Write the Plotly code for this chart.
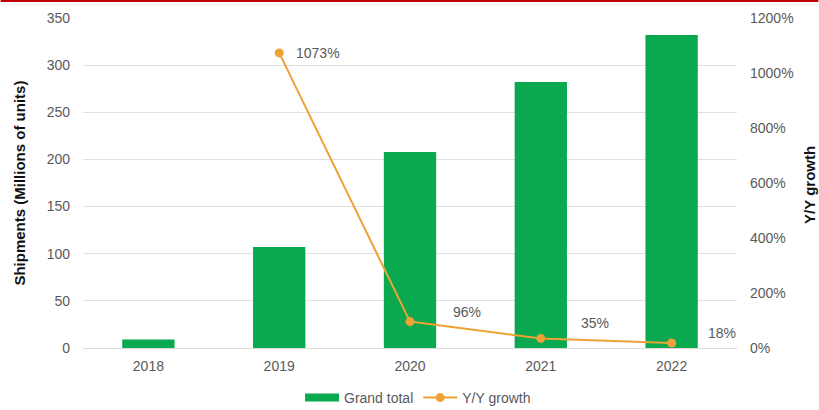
import plotly.graph_objects as go

# Annual shipments and year-over-year growth
years = ["2018", "2019", "2020", "2021", "2022"]
shipments = [9, 107, 208, 282, 332]          # millions of units
growth_years = ["2019", "2020", "2021", "2022"]
growth_pct = [1073, 96, 35, 18]               # Y/Y growth, %

left_ticks = [0, 50, 100, 150, 200, 250, 300, 350]
right_ticks = [0, 200, 400, 600, 800, 1000, 1200]

GREEN = "#0aa84f"
ORANGE = "#eea236"
TICK_GREY = "#595959"
FONT = "Liberation Sans, Arial, sans-serif"

W, H = 819, 410
L, R, T, B = 82.5, 81.5, 18, 62
plot_w = W - L - R
plot_h = H - T - B

# category positions on the x axis
pos = {yr: i for i, yr in enumerate(years)}

fig = go.Figure()
fig.add_trace(go.Bar(
    x=[pos[y] for y in years], y=shipments, name="Grand total",
    marker=dict(color=GREEN, line=dict(width=0)),
    width=0.4, yaxis="y", showlegend=False,
))
# legend entry for the bars, drawn as a wide green swatch
fig.add_trace(go.Scatter(
    x=[None], y=[None], name="Grand total", mode="lines",
    line=dict(color=GREEN, width=8), yaxis="y",
))
fig.add_trace(go.Scatter(
    x=[pos[y] for y in growth_years], y=growth_pct, name="Y/Y growth",
    mode="lines+markers", yaxis="y2",
    line=dict(color=ORANGE, width=2),
    marker=dict(color=ORANGE, size=9),
))

# value labels beside each growth point
label_shift = [(15, 0), (41, 10), (38, 15), (34, 10)]
for yr, val, (dx, dy) in zip(growth_years, growth_pct, label_shift):
    fig.add_annotation(
        x=pos[yr], y=val, xref="x", yref="y2", text=f"{val}%",
        showarrow=False, xanchor="left", yanchor="middle",
        xshift=dx, yshift=dy,
        font=dict(family=FONT, size=14, color=TICK_GREY),
    )

# axis titles
fig.add_annotation(
    x=(18 - L) / plot_w, y=0.5, xref="paper", yref="paper",
    text="<b>Shipments (Millions of units)</b>", textangle=-90,
    showarrow=False, xanchor="center", yanchor="middle",
    font=dict(family=FONT, size=15, color="#111111"),
)
fig.add_annotation(
    x=(809.5 - L) / plot_w, y=(H - B - 185) / plot_h, xref="paper", yref="paper",
    text="<b>Y/Y growth</b>", textangle=-90,
    showarrow=False, xanchor="center", yanchor="middle",
    font=dict(family=FONT, size=15, color="#111111"),
)

# red rule along the top edge
fig.add_shape(
    type="line", xref="paper", yref="paper",
    x0=-L / plot_w, x1=(W - L) / plot_w,
    y0=(H - B - 1) / plot_h, y1=(H - B - 1) / plot_h,
    line=dict(color="#c00000", width=2),
)

fig.update_layout(
    width=W, height=H,
    margin=dict(l=L, r=R, t=T, b=B, pad=0, autoexpand=False),
    paper_bgcolor="white", plot_bgcolor="white",
    font=dict(family=FONT, size=14, color=TICK_GREY),
    showlegend=True,
    legend=dict(
        orientation="h", xref="container", yref="container",
        x=418 / W, xanchor="center",
        y=(H - 398) / H, yanchor="middle",
        font=dict(family=FONT, size=14, color=TICK_GREY),
        itemwidth=34, tracegroupgap=0,
    ),
    xaxis=dict(
        range=[-0.5, len(years) - 0.5],
        tickvals=list(range(len(years))), ticktext=years,
        showgrid=False, showline=True, linecolor="#d9d9d9", linewidth=1,
        zeroline=False, ticks="", ticklabelstandoff=5,
        tickfont=dict(size=14, color=TICK_GREY), automargin=False,
    ),
    yaxis=dict(
        range=[0, 350], tickvals=left_ticks,
        showgrid=True, gridcolor="#e0e0e0", gridwidth=1,
        zeroline=False, showline=False, ticks="",
        ticklabelstandoff=12, automargin=False,
        tickfont=dict(size=14, color=TICK_GREY),
    ),
    yaxis2=dict(
        overlaying="y", side="right", range=[0, 1200],
        tickvals=right_ticks, ticktext=[f"{v}%" for v in right_ticks],
        showgrid=False, zeroline=False, showline=False, ticks="",
        ticklabelstandoff=12, automargin=False,
        tickfont=dict(size=14, color=TICK_GREY),
    ),
)

fig.write_html("out.html")
